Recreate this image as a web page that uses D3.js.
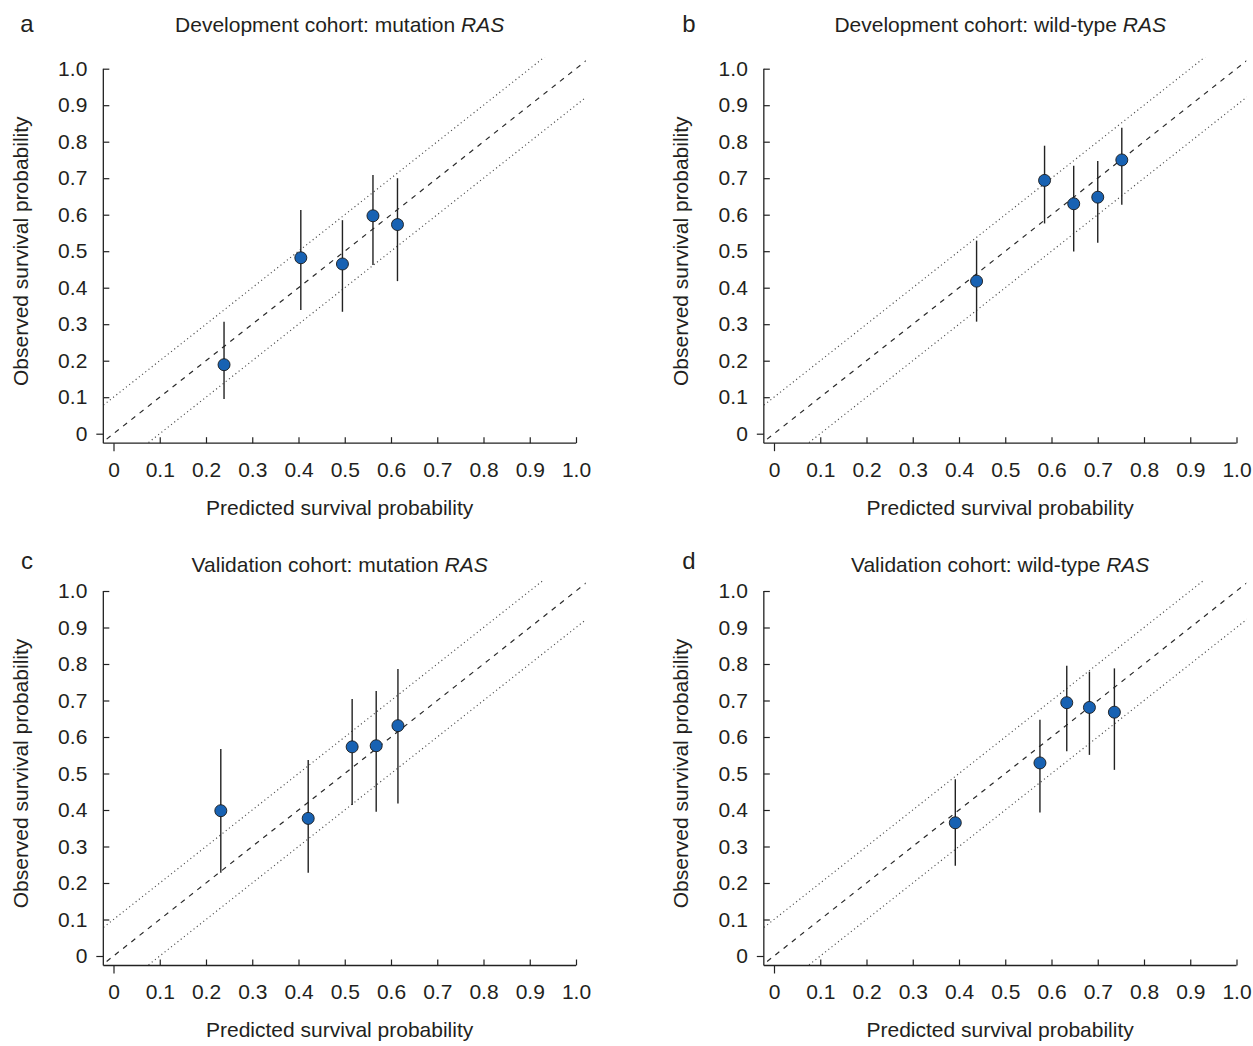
<!DOCTYPE html>
<html>
<head>
<meta charset="utf-8">
<script src="https://cdn.jsdelivr.net/npm/d3@7"></script>
<style>
  html, body { margin: 0; padding: 0; background: #fff; }
  svg { display: block; }
  text { font-family: "Liberation Sans", Arial, Helvetica, sans-serif; fill: #231f20; }
</style>
</head>
<body>
<svg id="chart" width="1253" height="1046"></svg>
<script>
// ---------------- data ----------------
const panelLetters = ["a", "b", "c", "d"];
const panelTitles = [
  "Development cohort: mutation ",
  "Development cohort: wild-type ",
  "Validation cohort: mutation ",
  "Validation cohort: wild-type "
];
const geneName = "RAS";
const xAxisTitle = "Predicted survival probability";
const yAxisTitle = "Observed survival probability";

const tickValues = [0, 0.1, 0.2, 0.3, 0.4, 0.5, 0.6, 0.7, 0.8, 0.9, 1.0];
const tickLabels = ["0", "0.1", "0.2", "0.3", "0.4", "0.5", "0.6", "0.7", "0.8", "0.9", "1.0"];

// reference lines: y = x + offset
const refOffsets = [0, 0.1, -0.1];

// panel a: development, mutation RAS
const predA = [0.239, 0.405, 0.495, 0.561, 0.614];
const obsA  = [0.189, 0.482, 0.465, 0.597, 0.573];
const lowA  = [0.095, 0.339, 0.334, 0.462, 0.418];
const highA = [0.307, 0.613, 0.585, 0.709, 0.700];

// panel b: development, wild-type RAS
const predB = [0.438, 0.585, 0.648, 0.700, 0.752];
const obsB  = [0.418, 0.694, 0.630, 0.648, 0.750];
const lowB  = [0.307, 0.576, 0.499, 0.523, 0.627];
const highB = [0.529, 0.789, 0.734, 0.747, 0.838];

// panel c: validation, mutation RAS
const predC = [0.232, 0.421, 0.516, 0.568, 0.615];
const obsC  = [0.398, 0.377, 0.573, 0.576, 0.631];
const lowC  = [0.228, 0.228, 0.414, 0.395, 0.418];
const highC = [0.567, 0.537, 0.704, 0.726, 0.786];

// panel d: validation, wild-type RAS
const predD = [0.392, 0.575, 0.633, 0.682, 0.736];
const obsD  = [0.365, 0.529, 0.694, 0.681, 0.668];
const lowD  = [0.247, 0.393, 0.561, 0.551, 0.510];
const highD = [0.484, 0.647, 0.795, 0.779, 0.788];

const seriesPred = [predA, predB, predC, predD];
const seriesObs  = [obsA, obsB, obsC, obsD];
const seriesLow  = [lowA, lowB, lowC, lowD];
const seriesHigh = [highA, highB, highC, highD];

// ---------------- layout ----------------
const layout = [
  { x0: 113.5, y0: 433.7, titleY: 32,  labelX: 27,  labelY: 32 },
  { x0: 774,   y0: 433.7, titleY: 32,  labelX: 689, labelY: 32 },
  { x0: 113.5, y0: 956,   titleY: 572, labelX: 27,  labelY: 569 },
  { x0: 774,   y0: 956,   titleY: 572, labelX: 689, labelY: 569 }
];
const xUnit = 462.5, yUnit = 365;
const xMinUsr = -0.022, yMinUsr = -0.026, xMaxClip = 1.021, yMaxClip = 1.03;
const FONT = 21;

const svg = d3.select("#chart");

panelLetters.forEach((letter, i) => {
  const L = layout[i];
  const x = d3.scaleLinear().domain([0, 1]).range([L.x0, L.x0 + xUnit]);
  const y = d3.scaleLinear().domain([0, 1]).range([L.y0, L.y0 - yUnit]);
  const g = svg.append("g");

  const axisX = x(xMinUsr);   // position of y-axis line
  const axisY = y(yMinUsr);   // position of x-axis line

  // clip for reference lines
  const clipId = "clip-" + letter;
  svg.append("clipPath").attr("id", clipId)
    .append("rect")
    .attr("x", x(xMinUsr)).attr("y", y(yMaxClip))
    .attr("width", x(xMaxClip) - x(xMinUsr))
    .attr("height", y(yMinUsr) - y(yMaxClip));

  const lineGen = d3.line().x(d => x(d[0])).y(d => y(d[1]));
  const refG = g.append("g").attr("clip-path", `url(#${clipId})`);
  refOffsets.forEach(off => {
    const pts = [[-0.3, -0.3 + off], [1.3, 1.3 + off]];
    refG.append("path")
      .attr("d", lineGen(pts))
      .attr("fill", "none")
      .attr("stroke", off === 0 ? "#2a2a2a" : "#4a4a4a")
      .attr("stroke-width", off === 0 ? 1.2 : 1.15)
      .attr("stroke-dasharray", off === 0 ? "5,5.5" : "1.1,3");
  });

  // data
  const pts = seriesPred[i].map((p, k) => ({
    p, o: seriesObs[i][k], lo: seriesLow[i][k], hi: seriesHigh[i][k]
  }));

  g.append("g").selectAll("line").data(pts).join("line")
    .attr("x1", d => x(d.p)).attr("x2", d => x(d.p))
    .attr("y1", d => y(d.lo)).attr("y2", d => y(d.hi))
    .attr("stroke", "#222").attr("stroke-width", 1.4);

  g.append("g").selectAll("circle").data(pts).join("circle")
    .attr("cx", d => x(d.p)).attr("cy", d => y(d.o))
    .attr("r", 6)
    .attr("fill", "#1862b3")
    .attr("stroke", "#1a1a1a").attr("stroke-width", 0.9);

  // axes
  const fmt = (d, k) => tickLabels[k];
  const yAxis = d3.axisLeft(y).tickValues(tickValues).tickFormat(fmt)
    .tickSizeInner(-6).tickSizeOuter(0).tickPadding(16);
  const yg = g.append("g").attr("transform", `translate(${axisX},0)`).call(yAxis);
  yg.select(".domain").remove();
  yg.selectAll(".tick line").attr("stroke", "#222").attr("stroke-width", 1.2)
    .attr("x2", d => d === 0 ? -7 : 6);
  yg.selectAll(".tick text").style("font-size", FONT + "px")
    .style("font-family", '"Liberation Sans", Arial, sans-serif').attr("fill", "#231f20");

  const xAxis = d3.axisBottom(x).tickValues(tickValues).tickFormat(fmt)
    .tickSizeInner(-6).tickSizeOuter(0).tickPadding(19);
  const xg = g.append("g").attr("transform", `translate(0,${axisY})`).call(xAxis);
  xg.select(".domain").remove();
  xg.selectAll(".tick line").attr("stroke", "#222").attr("stroke-width", 1.2)
    .attr("y2", d => d === 0 ? 8 : -6);
  xg.selectAll(".tick text").style("font-size", FONT + "px")
    .style("font-family", '"Liberation Sans", Arial, sans-serif').attr("fill", "#231f20");

  // axis lines
  g.append("line")
    .attr("x1", axisX).attr("x2", axisX)
    .attr("y1", y(1)).attr("y2", axisY)
    .attr("stroke", "#222").attr("stroke-width", 1.3);
  g.append("line")
    .attr("x1", axisX).attr("x2", x(1))
    .attr("y1", axisY).attr("y2", axisY)
    .attr("stroke", "#222").attr("stroke-width", 1.3);

  const centerX = (axisX + x(1)) / 2;

  // x-axis title
  g.append("text")
    .attr("x", centerX).attr("y", axisY + 72)
    .attr("text-anchor", "middle")
    .style("font-size", FONT + "px")
    .text(xAxisTitle);

  // y-axis title
  g.append("text")
    .attr("transform", `translate(${axisX - 75.5},${y(0.5)}) rotate(-90)`)
    .attr("text-anchor", "middle")
    .style("font-size", FONT + "px")
    .text(yAxisTitle);

  // panel title
  const t = g.append("text")
    .attr("x", centerX).attr("y", L.titleY)
    .attr("text-anchor", "middle")
    .style("font-size", FONT + "px");
  t.append("tspan").text(panelTitles[i]);
  t.append("tspan").style("font-style", "italic").text(geneName);

  // panel letter
  g.append("text")
    .attr("x", L.labelX).attr("y", L.labelY)
    .attr("text-anchor", "middle")
    .style("font-size", "24px")
    .text(letter);
});
</script>
</body>
</html>
